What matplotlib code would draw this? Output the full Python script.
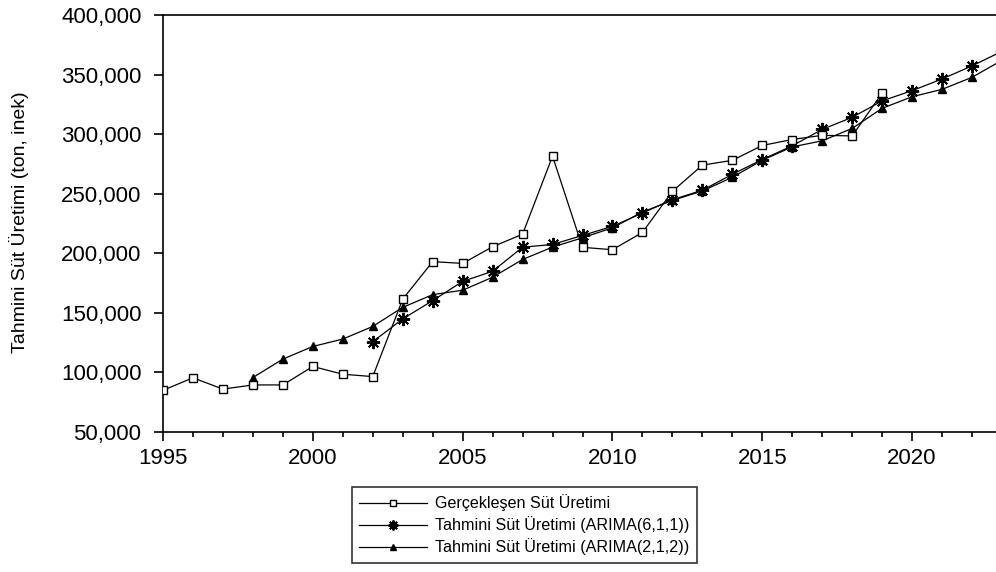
import matplotlib
matplotlib.use("Agg")
import matplotlib.pyplot as plt
from matplotlib.ticker import FuncFormatter, MultipleLocator

# Milk production (tons, cows): observed series and two ARIMA fits
years_actual = list(range(1995, 2020))
actual = [85000, 95500, 86000, 89500, 89500, 105000, 98500, 96500,
          161500, 193000, 191500, 205500, 216000, 281500, 205000, 203000,
          217500, 252000, 274000, 278000, 290500, 295500, 299000, 298500,
          334500]

years_arima611 = list(range(2002, 2024))
arima611 = [125800, 144900, 160300, 176400, 184900, 205100, 207400, 215000,
            222600, 233800, 245000, 252900, 266300, 278700, 290200, 304000,
            314100, 327900, 336500, 346300, 357300, 369500]

years_arima212 = list(range(1998, 2024))
arima212 = [95700, 111200, 121800, 128000, 138600, 154600, 165300, 169000,
            179900, 194800, 205200, 213000, 221400, 234600, 244400, 252300,
            263800, 278100, 289300, 294400, 304800, 321700, 331400, 337600,
            347700, 362000]

labels = ["Gerçekleşen Süt Üretimi",
          "Tahmini Süt Üretimi (ARIMA(6,1,1))",
          "Tahmini Süt Üretimi (ARIMA(2,1,2))"]
ylabel = "Tahmini Süt Üretimi (ton, inek)"

plt.rcParams["font.family"] = ["Liberation Sans", "DejaVu Sans"]

fig = plt.figure(figsize=(9.96, 5.72), dpi=100)
ax = fig.add_axes([163 / 996, 140 / 572, 839 / 996, 417 / 572])

lw = 0.9
ax.plot(years_actual, actual, color="black", lw=lw, marker="s", ms=6,
        mfc="white", mec="black", mew=1.0, label=labels[0], zorder=3)
ax.plot(years_arima611, arima611, color="black", lw=lw, marker=(8, 2, 0),
        ms=9.5, mec="black", mew=1.4, label=labels[1], zorder=2)
ax.plot(years_arima212, arima212, color="black", lw=lw, marker="^", ms=6,
        mfc="black", mec="black", label=labels[2], zorder=2)

ax.set_xlim(1995, 2023)
ax.set_ylim(50000, 400000)
ax.xaxis.set_major_locator(MultipleLocator(5))
ax.xaxis.set_minor_locator(MultipleLocator(1))
ax.yaxis.set_major_locator(MultipleLocator(50000))
ax.yaxis.set_major_formatter(FuncFormatter(lambda v, p: f"{int(v):,}"))

for s in ax.spines.values():
    s.set_linewidth(1.2)
ax.tick_params(axis="both", which="major", direction="out", length=6.5,
               width=1.2, labelsize=16, colors="black")
ax.tick_params(axis="x", which="minor", direction="out", length=3.5, width=1.2)
ax.tick_params(axis="y", pad=9)
ax.tick_params(axis="x", pad=5)

fig.text(19 / 996, 1 - 222 / 572, ylabel, rotation=90, ha="center",
         va="center", fontsize=14)

leg = fig.legend(loc="upper left", bbox_to_anchor=(352 / 996, 1 - 487 / 572),
                 fontsize=11.6, frameon=True, fancybox=False, edgecolor="black",
                 handlelength=4.2, handletextpad=0.5, labelspacing=0.32,
                 borderpad=0.45, borderaxespad=0, markerscale=0.75)
leg.get_frame().set_linewidth(1.2)

fig.savefig("out.png", dpi=100)
